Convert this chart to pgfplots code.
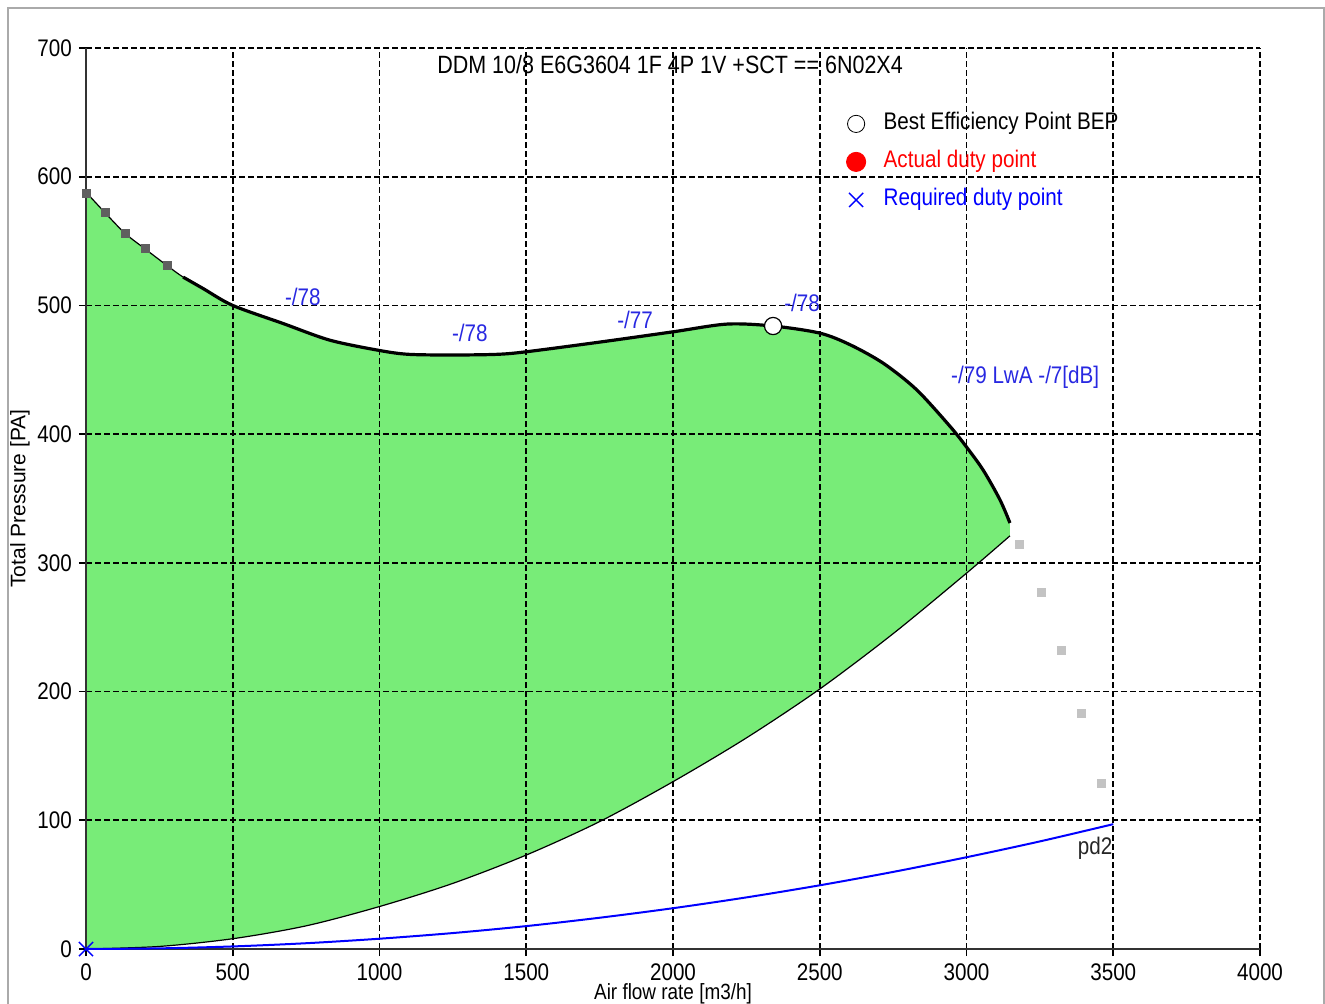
\documentclass[border=0pt]{standalone}
\usepackage{fontspec}
\setmainfont{Liberation Sans}[FakeStretch=0.86]
\newfontfamily\widesans{Liberation Sans}
\usepackage{pgfplots}
\pgfplotsset{compat=1.18}
\usepgfplotslibrary{fillbetween}

\definecolor{fillgreen}{RGB}{120,236,120}
\definecolor{lblblue}{RGB}{40,40,225}
\definecolor{sqdark}{RGB}{95,95,95}
\definecolor{sqlight}{RGB}{195,195,195}
\definecolor{framegray}{RGB}{170,170,170}
\newcommand{\chartfont}{\fontsize{12}{14}\selectfont}

\begin{document}
\begin{tikzpicture}
\begin{axis}[
  at={(0,0)}, anchor=south west,
  scale only axis, width=587pt, height=450.5pt,
  set layers,
  xmin=0, xmax=4000, ymin=0, ymax=700,
  axis x line*=bottom, axis y line*=left,
  axis line style={-, line width=1pt, black!80},
  xtick={0,500,...,4000}, ytick={0,100,...,700},
  tick align=outside, major tick length=3.5pt,
  tick style={black, line width=0.8pt},
  grid=major,
  major grid style={black, line width=0.85pt, dash pattern=on 3pt off 1.5pt},
  /pgf/number format/assume math mode=true,
  /pgf/number format/1000 sep={},
  tick label style={font=\chartfont},
  xticklabel style={inner sep=1pt, yshift=-2.5pt},
  clip=false,
  legend image code/.code={\draw[#1] plot coordinates {(0pt,0pt)};},
  legend style={at={(axis cs:2583,653)}, anchor=north west, draw=none, fill=none,
    font=\chartfont, row sep=6pt, column sep=8.5pt, inner sep=1pt,
    nodes={inner sep=0.5pt, text height=9pt, text depth=3pt}},
  legend cell align=left,
]
% legend
\addlegendimage{only marks, mark=*, mark size=4.3pt, draw=black, fill=white}
\addlegendentry{Best Efficiency Point BEP}
\addlegendimage{only marks, mark=*, mark size=4.8pt, red}
\addlegendentry{\textcolor{red}{Actual duty point}}
\addlegendimage{only marks, mark=x, mark size=5pt, blue, mark options={line width=0.7pt}}
\addlegendentry{\textcolor{blue}{Required duty point}}

% fan curve (upper) and lower limit
\addplot[name path=upper, smooth, black, line width=0.6pt, forget plot] coordinates {
(0,588) (65,572) (133,556) (201,544) (276,531) (331,522) (400,513) (500,500)
(671,486) (831,473) (1000,465) (1100,462) (1250,461.5) (1400,462) (1500,464)
(1750,471.5) (2000,479.5) (2184,485.5) (2341,484) (2500,478.5) (2603,469.5)
(2717,455) (2830,434.5) (2944,406) (3000,390) (3057,372) (3114,349) (3148,331)
};
\addplot[name path=lower, smooth, black, line width=0.6pt, forget plot] coordinates {
(0,0) (250,2) (500,8) (750,18) (1000,33) (1250,51) (1500,73) (1750,99)
(2000,130) (2250,164) (2500,202) (2750,245) (3000,292) (3148,321)
};
\addplot[fillgreen, forget plot] fill between[of=upper and lower, on layer=axis background];

% thick part of the fan curve
\addplot[smooth, black, line width=1.6pt, forget plot] coordinates {
(331,522) (400,513) (500,500)
(671,486) (831,473) (1000,465) (1100,462) (1250,461.5) (1400,462) (1500,464)
(1750,471.5) (2000,479.5) (2184,485.5) (2341,484) (2500,478.5) (2603,469.5)
(2717,455) (2830,434.5) (2944,406) (3000,390) (3057,372) (3114,349) (3148,331)
};

% system curve pd2
\addplot[smooth, blue, line width=1pt, forget plot] coordinates {
(0,0) (250,0.5) (500,2) (750,4.5) (1000,8) (1250,12.4) (1500,17.8) (1750,24.3)
(2000,31.7) (2250,40.1) (2500,49.5) (2750,59.9) (3000,71.3) (3250,83.6) (3500,97)
};

% curve points
\addplot[only marks, mark=square*, mark size=2pt, sqdark, forget plot] coordinates {
(0,587) (65,572) (133,556) (201,544) (276,531)
};
\addplot[only marks, mark=square*, mark size=2pt, sqlight, forget plot] coordinates {
(3179,314) (3254,277) (3322,232) (3390,183) (3458,129)
};
\addplot[only marks, mark=*, mark size=4.3pt, draw=black, fill=white,
  mark options={line width=0.6pt}, forget plot] coordinates {(2341,484)};
\addplot[only marks, mark=x, mark size=5pt, blue,
  mark options={line width=0.7pt}, forget plot] coordinates {(0,0)};

% labels
\node[font=\fontsize{12.5}{14}\selectfont] at (axis cs:1990,687) {DDM 10/8 E6G3604 1F 4P 1V +SCT == 6N02X4};
\node[font=\chartfont, lblblue] at (axis cs:739,506.5) {-/78};
\node[font=\chartfont, lblblue] at (axis cs:1308,478.5) {-/78};
\node[font=\chartfont, lblblue] at (axis cs:1871,488.5) {-/77};
\node[font=\chartfont, lblblue] at (axis cs:2440,502) {-/78};
\node[font=\chartfont, lblblue] at (axis cs:3200,444.5) {-/79 LwA -/7[dB]};
\node[font=\chartfont, black!85] at (axis cs:3438,78.5) {pd2};

\node[rotate=90, font=\widesans\fontsize{10.5}{12}\selectfont]
  at ([xshift=-33pt]rel axis cs:0,0.5) {Total Pressure [PA]};
\node[font=\fontsize{11}{13}\selectfont, inner sep=0pt]
  at ([yshift=-22.5pt]rel axis cs:0.5,0) {Air flow rate [m3/h]};
\end{axis}
\pgfresetboundingbox
\path[use as bounding box] (-43pt,-27pt) rectangle (619.5pt,474.5pt);
\draw[framegray, line width=1pt] (-39pt,-30pt) -- (-39pt,470.5pt) -- (619pt,470.5pt) -- (619pt,-30pt);
\end{tikzpicture}
\end{document}
